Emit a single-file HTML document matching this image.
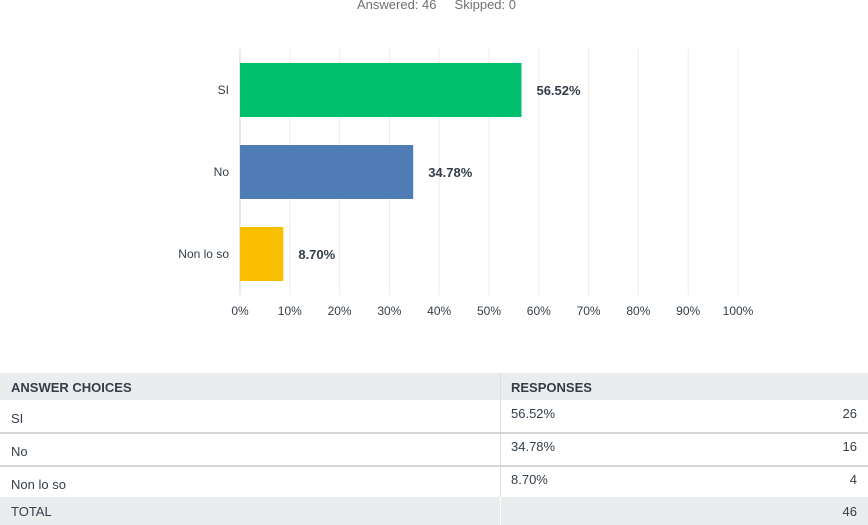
<!DOCTYPE html>
<html><head><meta charset="utf-8"><style>
body{margin:0;width:868px;height:525px;background:#fff;font-family:"Liberation Sans",sans-serif;position:relative;overflow:hidden;color:#333e48}
.t{position:absolute;font-size:13px}
</style></head><body>
<div class="t" style="left:357px;top:-3px;color:#6f7175">Answered: 46&nbsp;&nbsp;&nbsp;&nbsp;&nbsp;Skipped: 0</div>
<svg id="chart" width="868" height="340" style="position:absolute;left:0;top:0"></svg>
<div>
<div style="position:absolute;left:0;top:373px;width:868px;height:27px;background:#ebeced"></div>
<div style="position:absolute;left:500px;top:373px;width:1px;height:124px;background:#ddd"></div>
<div class="t" style="left:11px;top:380px;font-weight:bold;font-size:13px">ANSWER CHOICES</div>
<div class="t" style="left:511px;top:380px;font-weight:bold">RESPONSES</div>
<div style="position:absolute;left:0;top:432px;width:868px;height:2px;background:#d5d5d5"></div>
<div style="position:absolute;left:0;top:465px;width:868px;height:2px;background:#d5d5d5"></div>
<div class="t" style="left:11px;top:411px">SI</div>
<div class="t" style="left:511px;top:406px">56.52%</div>
<div class="t" style="right:11px;top:406px">26</div>
<div class="t" style="left:11px;top:444px">No</div>
<div class="t" style="left:511px;top:439px">34.78%</div>
<div class="t" style="right:11px;top:439px">16</div>
<div class="t" style="left:11px;top:477px">Non lo so</div>
<div class="t" style="left:511px;top:472px">8.70%</div>
<div class="t" style="right:11px;top:472px">4</div>
<div style="position:absolute;left:0;top:497px;width:868px;height:28px;background:#ebeced"></div>
<div style="position:absolute;left:500px;top:497px;width:1px;height:28px;background:#fff"></div>
<div class="t" style="left:11px;top:504px">TOTAL</div>
<div class="t" style="right:11px;top:504px">46</div>
</div>
<script>
const categories=["SI","No","Non lo so"];
const values=[56.52,34.78,8.70];
const colors=["#00bf6f","#507cb6","#f9be00"];
const ticks=[0,10,20,30,40,50,60,70,80,90,100];
const NS="http://www.w3.org/2000/svg";
const svg=document.getElementById("chart");
const x0=240,x1=738,top0=49,bot=295;
const xs=v=>x0+(x1-x0)*v/100;
const band=(bot-top0)/categories.length;
function mk(t,a){const e=document.createElementNS(NS,t);for(const k in a)e.setAttribute(k,a[k]);svg.appendChild(e);return e;}
ticks.forEach(t=>{
  const l=mk("line",{x1:xs(t),x2:xs(t),y1:top0,y2:bot,stroke:t===0?"#d0d0d0":"#ebebeb","stroke-width":1});
  
  
  const tx=mk("text",{x:xs(t),y:315,"text-anchor":"middle","font-size":12,fill:"#333e48","font-family":"Liberation Sans, sans-serif"});
  tx.textContent=t+"%";
  
  
});
categories.forEach((c,i)=>{
  const cy=top0+band*i+band/2;
  const r=mk("rect",{x:x0,y:cy-27,width:xs(values[i])-x0,height:54,fill:colors[i]});
  
  
  const lb=mk("text",{x:229,y:cy+4,"text-anchor":"end","font-size":12,fill:"#333e48","font-family":"Liberation Sans, sans-serif"});
  lb.textContent=c;
  
  
  const vl=mk("text",{x:xs(values[i])+15,y:cy+5,"font-size":13,"font-weight":"bold",fill:"#333e48","font-family":"Liberation Sans, sans-serif"});
  vl.textContent=values[i].toFixed(2)+"%";
  
  
});
</script>
</body></html>
